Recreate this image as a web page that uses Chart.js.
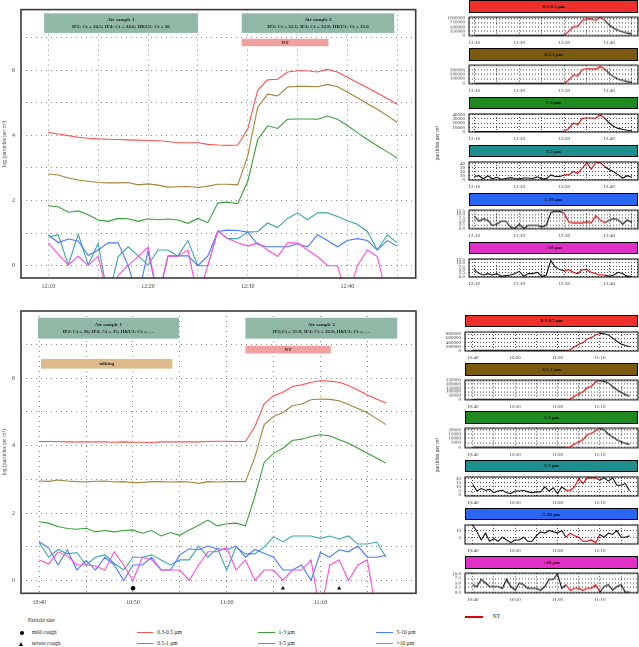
<!DOCTYPE html>
<html>
<head>
<meta charset="utf-8">
<script src="https://cdn.jsdelivr.net/npm/chart.js@4.4.0/dist/chart.umd.min.js"></script>
<style>
  body { margin: 0; width: 639px; height: 647px; position: relative; background: #fff; overflow: hidden;
         font-family: "Liberation Serif", serif; color: #222; }
  canvas { position: absolute; }
  .hdr { position: absolute; box-sizing: border-box; border: 1px solid #000; font-size: 5px; font-weight: bold;
         display: flex; align-items: center; justify-content: center; color: #111; }
  .txt { position: absolute; font-size: 5.5px; white-space: nowrap; line-height: 1; }
  .swatch { position: absolute; height: 1.5px; }
  .vtitle { position: absolute; font-size: 5.5px; white-space: nowrap; transform: rotate(-90deg); transform-origin: center; }
</style>
</head>
<body>
<script>
// ---- morning session (12:10 - 12:45), one value per minute, log10(particles per m3) ----
const tickLabelsTop = ['12:10', '12:20', '12:30', '12:40'];
const logTopA = [4.08,4.04,3.99,3.94,3.91,3.89,3.88,3.87,3.86,3.85,3.84,3.83,3.81,3.77,3.77,3.77,3.72,3.70,3.69,3.70,
                 4.19,5.38,5.70,5.72,5.94,5.98,5.98,5.94,6.02,5.94,5.78,5.62,5.46,5.30,5.13,4.95];
const logTopB = [2.81,2.78,2.69,2.63,2.59,2.55,2.54,2.54,2.55,2.48,2.51,2.47,2.41,2.42,2.43,2.40,2.44,2.50,2.50,2.48,
                 3.36,4.86,5.26,5.21,5.48,5.50,5.50,5.49,5.56,5.49,5.33,5.15,4.97,4.80,4.60,4.40];
const logTopC = [1.84,1.81,1.64,1.68,1.56,1.40,1.36,1.45,1.44,1.36,1.44,1.41,1.43,1.40,1.30,1.45,1.32,1.92,1.95,1.90,
                 2.58,3.87,4.29,4.21,4.49,4.50,4.50,4.49,4.59,4.49,4.30,4.08,3.87,3.68,3.49,3.30];
const logTopD = [0.87,0.95,0.02,0.96,0.03,0.68,-1,0.27,0.58,0.31,0.02,0.48,0.48,0.30,0.77,0,0,1.06,0.83,0.83,
                 1.03,1.05,1.31,1.17,1.45,1.62,1.41,1.62,1.62,1.51,1.38,1.27,1.05,0.48,0.95,0.70];
const logTopE = [0.94,0.71,0.82,0.76,0.31,0.48,0.70,0.70,0.01,-1,0.46,-1,0.30,0.30,0.30,0,0.30,1.05,1.09,1.08,
                 1.03,0.65,0.58,0.58,0.58,0.67,0.58,0.95,0.77,0.58,0.77,0.83,0.77,0.48,0.77,0.60];
const logTopF = [0.70,0.35,0.02,0.29,0.01,0.29,-1,-0.3,0.0,0.28,0.57,-1,0.29,0.29,0.48,-1,0,1.07,0.83,0.70,
                 0.60,0.70,0.48,0.28,0.70,0.70,0.48,0.28,0,0,-1,0,0.48,0.28,-1,-1];

// same session, particles per m3 (right-hand panels)
const linTopA = [12000,11000,9800,8700,8100,7800,7600,7400,7200,7100,6900,6800,6500,5900,5900,5900,5200,5000,4900,5000,
                 15000,240000,500000,525000,870000,950000,950000,870000,1050000,870000,600000,420000,290000,200000,135000,90000];
const linTopB = [650,600,490,430,390,350,350,350,350,300,320,300,260,260,270,250,280,320,320,300,
                 2300,72000,182000,162000,302000,316000,316000,309000,363000,309000,214000,141000,93000,63000,40000,25000];
const linTopC = [69,65,44,48,36,25,23,28,28,23,28,26,27,25,20,28,21,83,89,79,
                 380,7400,19500,16200,31000,31600,31600,31000,38900,31000,20000,12000,7400,4800,3100,2000];
const linTopD = [7,9,1,9,1,5,0,2,4,2,1,3,3,2,6,1,1,11,7,7,11,11,20,15,28,42,26,42,42,32,24,19,11,3,9,5];
const linTopE = [8.7,5.1,6.6,5.8,2.0,3.0,5.0,5.0,1.0,0,2.9,0,2.0,2.0,2.0,1.0,2.0,11.2,12.3,12.0,
                 10.7,4.5,3.8,3.8,3.8,4.7,3.8,8.9,5.9,3.8,5.9,6.8,5.9,3.0,5.9,4.0];
const linTopF = [5.0,2.2,1.0,2.0,1.0,2.0,0,0.5,1.0,1.9,3.7,0,2.0,2.0,3.0,0,1.0,11.7,6.8,5.0,
                 4.0,5.0,3.0,1.9,5.0,5.0,3.0,1.9,1.0,1.0,0,1.0,3.0,1.9,0,0];

// ---- second session (10:40 - 11:17) ----
const tickLabelsBot = ['10:40', '10:50', '11:00', '11:10'];
const logBotA = [4.12,4.12,4.12,4.11,4.11,4.11,4.11,4.11,4.10,4.11,4.10,4.10,4.09,4.11,4.11,4.11,4.11,4.11,4.12,4.13,4.13,4.12,4.12,
                 4.56,5.24,5.48,5.58,5.75,5.80,5.88,5.92,5.91,5.88,5.78,5.65,5.50,5.38,5.26];
const logBotB = [2.95,2.94,2.98,2.95,2.93,2.92,2.94,2.95,2.92,2.93,2.90,2.91,2.93,2.93,2.92,2.93,2.92,2.88,2.93,2.92,2.93,2.93,2.93,
                 3.65,4.62,4.86,4.98,5.18,5.23,5.36,5.38,5.37,5.33,5.22,5.10,4.97,4.80,4.62];
const logBotC = [1.74,1.70,1.60,1.54,1.52,1.55,1.44,1.48,1.44,1.48,1.50,1.40,1.48,1.32,1.42,1.34,1.50,1.64,1.79,1.62,1.68,1.70,1.62,
                 2.49,3.50,3.77,3.92,4.15,4.19,4.27,4.32,4.29,4.17,4.07,3.92,3.77,3.63,3.48];
const logBotD = [1.12,0.69,0.92,0.79,0.83,0.46,0.69,0.76,0.51,0.31,0.69,0.69,0.76,0.61,0.46,0.61,0.61,1.02,0.69,0.96,0.31,0.99,0.79,
                 0.79,0.99,1.30,1.15,1.32,1.32,1.32,1.25,1.32,1.23,1.32,1.08,1.08,1.14,0.69];
const logBotE = [1.15,0.96,0.46,0.91,0.31,0.59,0.31,0.69,0.46,0,0.46,0.46,0.69,0.31,0.31,0.76,0.94,0.91,1.02,0.94,0.91,1.02,0.69,
                 0.92,0.81,0.69,0.31,0.31,0.46,0,0.83,0.69,0.91,0.85,1.02,0.69,0.69,0.75];
const logBotF = [0.61,0.49,0.85,0.73,0.46,0.46,0.43,0.31,0.85,0.46,0,0.69,0.61,0.31,0.31,0.31,0,0.46,0.85,0.85,0.98,0.31,0.61,
                 0,0.31,0.31,0,0.31,0.31,0.61,-1,0.46,0.61,0,0.46,0.61,-1,-1];

const linBotA = [13200,13200,13200,12900,12900,12900,12900,12900,12600,12900,12600,12600,12300,12900,12900,12900,12900,12900,13200,13500,13500,13200,13200,
                 36000,174000,302000,380000,562000,631000,759000,832000,813000,759000,603000,447000,316000,240000,182000];
const linBotB = [890,870,950,890,850,830,870,890,830,850,790,810,850,850,830,850,830,760,850,830,850,850,850,
                 4500,42000,72000,95000,151000,170000,229000,240000,234000,214000,166000,126000,93000,63000,42000];
const linBotC = [55,50,40,35,33,35,28,30,28,30,32,25,30,21,26,22,32,44,62,42,48,50,42,
                 310,3200,5900,8300,14100,15500,18600,20900,19500,14800,11700,8300,5900,4300,3000];
const linBotD = [13,5,8,6,7,3,5,6,3,2,5,5,6,4,3,4,4,10,5,9,2,10,6,6,10,20,14,21,21,21,18,21,17,21,12,12,14,5];
const linBotE = [14,9,3,8,2,4,2,5,3,1,3,3,5,2,2,6,9,8,10,9,8,10,5,8,6,5,2,2,3,1,7,5,8,7,10,5,5,6];
const linBotF = [4,3,7,5,3,3,3,2,7,3,1,5,4,2,2,2,1,3,7,7,10,2,4,1,2,2,1,2,2,4,0,3,4,1,3,4,0,0];

// cough events (minutes after 10:40)
const mildCough = [10];
const severeCough = [26, 32];

const sizeNames = ['0.3-0.5 µm', '0.5-1 µm', '1-3 µm', '3-5 µm', '5-10 µm', '>10 µm'];
const lineColors = ['#ff5252', '#a3843a', '#3a9f3a', '#3aa8a8', '#4a78ff', '#ff4bd8'];
const headerColors = ['#ee2f2a', '#7b5a10', '#1f8a1f', '#1e8f8f', '#2a66f5', '#e22fc8'];

Chart.defaults.font.family = '"Liberation Serif", serif';
Chart.defaults.color = '#333';
Chart.defaults.animation = false;

// box round the plot area
const frame = {
  id: 'frame',
  afterDraw(chart, args, opts) {
    const { ctx, chartArea: a } = chart;
    ctx.save();
    ctx.strokeStyle = opts.color;
    ctx.lineWidth = opts.width;
    ctx.strokeRect(a.left, a.top, a.right - a.left, a.bottom - a.top);
    ctx.restore();
  }
};

// labelled bars (air samples, NT, talking) placed in data coordinates
const bands = {
  id: 'bands',
  beforeDatasetsDraw(chart, args, opts) {
    const { ctx, scales: { x, y } } = chart;
    ctx.save();
    (opts.items || []).forEach(b => {
      const l = x.getPixelForValue(b.from), r = x.getPixelForValue(b.to);
      const t = y.getPixelForValue(b.hi), btm = y.getPixelForValue(b.lo);
      ctx.fillStyle = b.fill;
      ctx.fillRect(l, t, r - l, btm - t);
      ctx.fillStyle = '#222';
      ctx.font = 'bold 5px "Liberation Serif"';
      ctx.textAlign = 'center';
      ctx.textBaseline = 'middle';
      const n = b.text.length;
      b.text.forEach((s, i) => ctx.fillText(s, (l + r) / 2, (t + btm) / 2 + (i - (n - 1) / 2) * 6.5));
    });
    ctx.restore();
  }
};

function addCanvas(left, top, w, h) {
  const c = document.createElement('canvas');
  c.width = w; c.height = h;
  c.style.left = left + 'px'; c.style.top = top + 'px';
  c.style.width = w + 'px'; c.style.height = h + 'px';
  document.body.appendChild(c);
  return c;
}

function toPoints(arr) {
  return arr.map((v, i) => ({ x: i, y: v }));
}

function mainChart(cfg) {
  const cv = addCanvas(0, cfg.top, 420, cfg.height);
  const datasets = cfg.series.map((s, i) => ({
    data: toPoints(s), borderColor: lineColors[i], borderWidth: 1.1, pointRadius: 0, tension: 0, order: 6 - i
  }));
  (cfg.markers || []).forEach(m => datasets.push({
    type: 'scatter', data: m.at.map(v => ({ x: v, y: -0.23 })), pointStyle: m.style,
    pointRadius: 2.3, backgroundColor: '#000', borderColor: '#000', borderWidth: 0, showLine: false
  }));
  new Chart(cv, {
    type: 'line',
    data: { datasets },
    plugins: [frame, bands],
    options: {
      responsive: false,
      events: [],
      layout: { padding: { top: cfg.padTop, right: cfg.padRight, left: 0, bottom: 0 } },
      plugins: {
        legend: { display: false }, tooltip: { enabled: false },
        frame: { color: '#3a3a3a', width: 1.6 },
        bands: { items: cfg.bands }
      },
      scales: {
        x: {
          type: 'linear', min: cfg.xMin, max: cfg.xMax,
          afterBuildTicks: s => { s.ticks = [0, 5, 10, 15, 20, 25, 30, 35].map(v => ({ value: v })); },
          afterFit: s => { s.height = cfg.xAxisH; },
          ticks: { autoSkip: false, maxRotation: 0, padding: cfg.xPad, font: { size: 6 }, color: '#444',
                   callback: v => (v % 10 === 0 ? cfg.tickLabels[v / 10] : '') },
          grid: { color: '#8a8a8a', lineWidth: 1, drawTicks: false },
          border: { display: false, dash: [1, 4] }
        },
        y: {
          min: cfg.yMin, max: cfg.yMax,
          afterBuildTicks: s => { s.ticks = [0, 1, 2, 3, 4, 5, 6, 7].map(v => ({ value: v })); },
          afterFit: s => { s.width = 21; },
          ticks: { autoSkip: false, padding: 6, font: { size: 6 }, color: '#444',
                   callback: v => (v % 2 === 0 ? String(v) : '') },
          grid: { color: '#8a8a8a', lineWidth: 1, drawTicks: false },
          border: { display: false, dash: [1, 4] },
          title: { display: true, text: 'log (particles per m³)', font: { size: 5.5 }, color: '#444', padding: { top: 1.5, bottom: 0 } }
        }
      }
    }
  });
}

mainChart({
  top: 0, height: 300, padTop: 1, padRight: 4.3, xAxisH: 22, xPad: 5,
  xMin: -2.74, xMax: 36.85, yMin: -0.378, yMax: 7.855, tickLabels: tickLabelsTop,
  series: [logTopA, logTopB, logTopC, logTopD, logTopE, logTopF],
  bands: [
    { from: -0.43, to: 15.0, lo: 7.14, hi: 7.74, fill: '#8fb9a6', text: ['Air sample 1', 'IP2: Ct = 34.5; IP4: Ct = 34.6; HKU1: Ct = 36'] },
    { from: 19.4, to: 34.7, lo: 7.14, hi: 7.74, fill: '#8fb9a6', text: ['Air sample 2', 'IP2: Ct = 32.1; IP4: Ct = 32.9; HKU1: Ct = 33.6'] },
    { from: 19.4, to: 28.1, lo: 6.73, hi: 6.96, fill: '#f1a0a0', text: ['NT'] }
  ]
});

mainChart({
  top: 300, height: 312, padTop: 11, padRight: 3.3, xAxisH: 18.7, xPad: 5.5,
  xMin: -1.95, xMax: 40.2, yMin: -0.38, yMax: 7.99, tickLabels: tickLabelsBot,
  series: [logBotA, logBotB, logBotC, logBotD, logBotE, logBotF],
  markers: [{ at: mildCough, style: 'circle' }, { at: severeCough, style: 'triangle' }],
  bands: [
    { from: -0.14, to: 14.9, lo: 7.17, hi: 7.79, fill: '#8fb9a6', text: ['Air sample 1', 'IP2: Ct = 36; IP4: Ct = 35; HKU1: Ct = – –'] },
    { from: 22.0, to: 38.2, lo: 7.17, hi: 7.79, fill: '#8fb9a6', text: ['Air sample 2', 'IP2:Ct = 31.8; IP4: Ct = 32.0; HKU1: Ct = – –'] },
    { from: 22.0, to: 31.1, lo: 6.73, hi: 6.96, fill: '#f1a0a0', text: ['NT'] },
    { from: 0.18, to: 14.2, lo: 6.28, hi: 6.57, fill: '#dfbb8b', text: ['talking'] }
  ]
});

// ---- small linear panels ----
function smallPanel(g, i, vals, yMin, yMax, yTicks, decimals) {
  const plotTop = g.firstTop + g.pitch * i;
  const hdr = document.createElement('div');
  hdr.className = 'hdr';
  hdr.style.left = g.left + 'px';
  hdr.style.width = (638 - g.left) + 'px';
  hdr.style.top = (plotTop - 12) + 'px';
  hdr.style.height = '12.5px';
  hdr.style.background = headerColors[i];
  hdr.textContent = sizeNames[i];
  document.body.appendChild(hdr);

  const cv = addCanvas(420, plotTop - 2, 219, g.plotH + 12);
  new Chart(cv, {
    type: 'line',
    data: { datasets: [{
      data: toPoints(vals), borderWidth: 1.1, pointRadius: 0, tension: 0,
      segment: { borderColor: c => (c.p0.parsed.x >= g.nt[0] && c.p1.parsed.x <= g.nt[1] ? '#e00000' : '#111') }
    }] },
    plugins: [frame],
    options: {
      responsive: false,
      events: [],
      layout: { padding: { top: 2, right: 1, left: 0, bottom: 0 } },
      plugins: { legend: { display: false }, tooltip: { enabled: false }, frame: { color: '#000', width: 1 } },
      scales: {
        x: {
          type: 'linear', min: g.xMin, max: g.xMax,
          afterBuildTicks: s => { s.ticks = [0, 5, 10, 15, 20, 25, 30, 35].map(v => ({ value: v })); },
          afterFit: s => { s.height = 10; },
          ticks: { autoSkip: false, maxRotation: 0, padding: 4, font: { size: 5 }, color: '#333',
                   callback: v => (v % 10 === 0 ? g.tickLabels[v / 10] : '') },
          grid: { color: '#555', lineWidth: 1, drawTicks: false },
          border: { display: false, dash: [1, 2] }
        },
        y: {
          min: yMin, max: yMax,
          afterBuildTicks: s => { s.ticks = yTicks.map(v => ({ value: v })); },
          afterFit: s => { s.width = g.left - 420; },
          ticks: { autoSkip: false, padding: 4, font: { size: 5 }, color: '#333',
                   callback: v => (decimals ? v.toFixed(1) : String(v)) },
          grid: { color: '#555', lineWidth: 1, drawTicks: false },
          border: { display: false, dash: [1, 2] }
        }
      }
    }
  });
}

const grpTop = { left: 469, firstTop: 12, pitch: 48.3, plotH: 23.5, xMin: -1.18, xMax: 36.38, nt: [20, 29], tickLabels: tickLabelsTop };
const grpBot = { left: 465, firstTop: 326.7, pitch: 48.3, plotH: 24.5, xMin: -1.82, xMax: 38.99, nt: [22, 30], tickLabels: tickLabelsBot };

smallPanel(grpTop, 0, linTopA, -20000, 1060000, [0, 250000, 500000, 750000, 1000000]);
smallPanel(grpTop, 1, linTopB, -8000, 395000, [0, 100000, 200000, 300000]);
smallPanel(grpTop, 2, linTopC, -1000, 41000, [0, 10000, 20000, 30000, 40000]);
smallPanel(grpTop, 3, linTopD, -2, 44, [0, 10, 20, 30, 40]);
smallPanel(grpTop, 4, linTopE, -0.4, 13, [0, 2.5, 5, 7.5, 10, 12.5], true);
smallPanel(grpTop, 5, linTopF, -0.5, 12.9, [0, 2.5, 5, 7.5, 10, 12.5], true);

smallPanel(grpBot, 0, linBotA, -26000, 900000, [0, 200000, 400000, 600000, 800000]);
smallPanel(grpBot, 1, linBotB, -6000, 250000, [0, 50000, 100000, 150000, 200000, 250000]);
smallPanel(grpBot, 2, linBotC, -800, 21500, [0, 5000, 10000, 15000, 20000]);
smallPanel(grpBot, 3, linBotD, -1, 22, [0, 5, 10, 15, 20]);
smallPanel(grpBot, 4, linBotE, 0, 14, [5, 10]);
smallPanel(grpBot, 5, linBotF, -0.4, 10.4, [0, 2.5, 5, 7.5, 10], true);

// ---- text, titles and legend ----
function addText(cls, left, top, text) {
  const d = document.createElement('div');
  d.className = cls;
  d.style.left = left + 'px';
  d.style.top = top + 'px';
  d.textContent = text;
  document.body.appendChild(d);
  return d;
}

function addVTitle(cx, cy, text) {
  const d = addText('vtitle', 0, 0, text);
  const w = d.offsetWidth, h = d.offsetHeight;
  d.style.left = (cx - w / 2) + 'px';
  d.style.top = (cy - h / 2) + 'px';
}
addVTitle(437, 143, 'particles per m³');
addVTitle(437, 455, 'particles per m³');

addText('txt', 28, 618, 'Particle size');
const dot = document.createElement('div');
dot.style.cssText = 'position:absolute;left:19.7px;top:630.7px;width:4px;height:4px;border-radius:50%;background:#000';
document.body.appendChild(dot);
const tri = document.createElement('div');
tri.style.cssText = 'position:absolute;left:19.2px;top:641.5px;width:0;height:0;border-left:2.5px solid transparent;border-right:2.5px solid transparent;border-bottom:4.3px solid #000';
document.body.appendChild(tri);
addText('txt', 31.7, 630, 'mild cough');
addText('txt', 31.7, 641, 'severe cough');

const legendSpots = [[136.7, 632.7], [136.7, 643.7], [258, 632.7], [258, 643.7], [376, 632.7], [376, 643.7]];
legendSpots.forEach((p, i) => {
  const sw = addText('swatch', p[0], p[1] - 0.75, '');
  sw.style.width = '16.6px';
  sw.style.background = lineColors[i];
  addText('txt', p[0] + 20.6, p[1] - 3, sizeNames[i]);
});

const ntLine = addText('swatch', 465, 616.2, '');
ntLine.style.width = '18.3px';
ntLine.style.background = '#e00000';
addText('txt', 492.7, 614.2, 'NT');
</script>
</body>
</html>
